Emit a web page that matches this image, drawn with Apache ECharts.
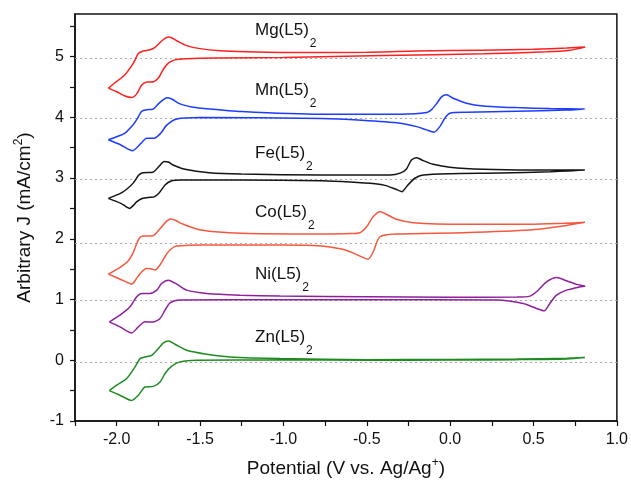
<!DOCTYPE html>
<html>
<head>
<meta charset="utf-8">
<script src="https://cdn.jsdelivr.net/npm/echarts@6/dist/echarts.min.js"></script>
<style>
  html, body { margin: 0; padding: 0; background: #fff; }
  #chart { width: 631px; height: 484px; }
</style>
</head>
<body>
<div id="chart"></div>
<script>
// ---------- data ----------
const names = ['Mg', 'Mn', 'Fe', 'Co', 'Ni', 'Zn'];
const colors = ['#ff2020', '#1e3cff', '#141414', '#f5583e', '#8e209c', '#1f8c22'];
const baselines = [4.97, 3.99, 2.98, 1.92, 0.99, -0.04];

const xTickValues = [-2.25, -2.0, -1.75, -1.5, -1.25, -1.0, -0.75, -0.5, -0.25, 0.0, 0.25, 0.5, 0.75, 1.0];
const xTickLabels = [-2.0, -1.5, -1.0, -0.5, 0.0, 0.5, 1.0];
const yTickValues = [-1, -0.5, 0, 0.5, 1, 1.5, 2, 2.5, 3, 3.5, 4, 4.5, 5, 5.5];
const yTickLabels = [-1, 0, 1, 2, 3, 4, 5];

// each curve: upper branch (forward sweep) and lower branch, both listed left -> right
const mgUpper = [[-2.05,4.48],[-2.00,4.59],[-1.95,4.70],[-1.90,4.89],[-1.87,5.05],[-1.84,5.09],[-1.80,5.11],[-1.77,5.15],[-1.74,5.23],[-1.715,5.29],[-1.69,5.32],[-1.665,5.30],[-1.64,5.26],[-1.58,5.18],[-1.50,5.13],[-1.38,5.095],[-1.22,5.078],[-1.0,5.068],[-0.5,5.07],[-0.2,5.09],[0.2,5.105],[0.5,5.12],[0.7,5.14],[0.81,5.155]];
const mgLower = [[-2.05,4.48],[-2.00,4.42],[-1.95,4.35],[-1.91,4.325],[-1.88,4.385],[-1.85,4.53],[-1.82,4.58],[-1.78,4.585],[-1.75,4.645],[-1.72,4.79],[-1.69,4.89],[-1.65,4.945],[-1.58,4.962],[-1.42,4.975],[-1.0,4.985],[-0.4,5.015],[0.2,5.045],[0.58,5.078],[0.72,5.105],[0.81,5.155]];

const mnUpper = [[-2.05,3.63],[-2.00,3.68],[-1.95,3.74],[-1.90,3.88],[-1.88,3.96],[-1.85,4.10],[-1.82,4.125],[-1.785,4.13],[-1.75,4.22],[-1.72,4.29],[-1.70,4.32],[-1.67,4.30],[-1.62,4.22],[-1.55,4.17],[-1.49,4.15],[-1.25,4.095],[-0.77,4.05],[-0.30,4.05],[-0.14,4.077],[-0.11,4.13],[-0.08,4.23],[-0.05,4.34],[-0.022,4.37],[0.018,4.314],[0.098,4.232],[0.198,4.187],[0.398,4.159],[0.598,4.143],[0.808,4.138]];
const mnLower = [[-2.05,3.63],[-1.975,3.544],[-1.935,3.48],[-1.905,3.45],[-1.875,3.51],[-1.855,3.57],[-1.82,3.655],[-1.775,3.655],[-1.735,3.74],[-1.70,3.87],[-1.64,3.97],[-1.50,3.995],[-0.77,3.98],[-0.53,3.95],[-0.30,3.902],[-0.20,3.846],[-0.142,3.792],[-0.096,3.754],[-0.062,3.846],[-0.032,3.985],[-0.002,4.067],[0.098,4.083],[0.398,4.10],[0.698,4.12],[0.808,4.138]];

const feUpper = [[-2.05,2.665],[-1.975,2.75],[-1.93,2.84],[-1.90,2.92],[-1.867,3.05],[-1.843,3.088],[-1.783,3.095],[-1.747,3.19],[-1.715,3.27],[-1.69,3.265],[-1.662,3.215],[-1.59,3.144],[-1.445,3.088],[-1.253,3.066],[-0.771,3.05],[-0.36,3.05],[-0.30,3.08],[-0.262,3.15],[-0.232,3.297],[-0.20,3.335],[-0.162,3.286],[-0.102,3.226],[-0.002,3.177],[0.198,3.144],[0.498,3.133],[0.808,3.133]];
const feLower = [[-2.05,2.665],[-1.975,2.583],[-1.945,2.53],[-1.922,2.50],[-1.90,2.55],[-1.879,2.61],[-1.843,2.666],[-1.80,2.683],[-1.775,2.69],[-1.747,2.748],[-1.71,2.885],[-1.674,2.951],[-1.614,2.968],[-1.253,2.968],[-0.771,2.955],[-0.60,2.935],[-0.45,2.905],[-0.385,2.875],[-0.33,2.82],[-0.289,2.775],[-0.262,2.857],[-0.241,2.92],[-0.212,2.996],[-0.162,3.05],[0.0,3.072],[0.30,3.083],[0.60,3.105],[0.808,3.133]];

const coUpper = [[-2.05,1.418],[-1.975,1.539],[-1.93,1.64],[-1.903,1.76],[-1.867,2.0],[-1.843,2.045],[-1.783,2.05],[-1.747,2.144],[-1.70,2.29],[-1.674,2.325],[-1.645,2.30],[-1.614,2.254],[-1.494,2.144],[-1.253,2.089],[-0.771,2.078],[-0.60,2.085],[-0.541,2.10],[-0.501,2.198],[-0.462,2.363],[-0.42,2.445],[-0.38,2.40],[-0.321,2.32],[-0.222,2.264],[0.078,2.237],[0.478,2.237],[0.678,2.254],[0.808,2.27]];
const coLower = [[-2.05,1.418],[-1.975,1.33],[-1.935,1.28],[-1.91,1.253],[-1.885,1.33],[-1.855,1.44],[-1.82,1.51],[-1.795,1.505],[-1.77,1.485],[-1.734,1.595],[-1.698,1.76],[-1.66,1.86],[-1.638,1.88],[-1.494,1.896],[-1.012,1.896],[-0.771,1.88],[-0.65,1.83],[-0.60,1.786],[-0.541,1.715],[-0.492,1.665],[-0.462,1.78],[-0.421,2.033],[-0.321,2.078],[0.078,2.10],[0.478,2.144],[0.678,2.21],[0.808,2.27]];

const niUpper = [[-2.044,0.632],[-1.98,0.742],[-1.92,0.879],[-1.88,1.044],[-1.85,1.10],[-1.80,1.10],[-1.76,1.154],[-1.73,1.265],[-1.69,1.319],[-1.64,1.253],[-1.58,1.154],[-1.46,1.10],[-1.26,1.072],[-1.02,1.056],[-0.5,1.045],[0.0,1.038],[0.40,1.04],[0.478,1.056],[0.518,1.127],[0.578,1.292],[0.638,1.364],[0.698,1.308],[0.758,1.249],[0.808,1.22]];
const niLower = [[-2.044,0.632],[-1.98,0.55],[-1.91,0.449],[-1.87,0.55],[-1.83,0.632],[-1.78,0.63],[-1.74,0.688],[-1.71,0.825],[-1.68,0.945],[-1.62,0.99],[-1.02,0.995],[-0.5,0.995],[0.278,0.99],[0.438,0.935],[0.518,0.853],[0.564,0.813],[0.598,0.935],[0.638,1.072],[0.698,1.154],[0.778,1.209],[0.808,1.22]];

const znUpper = [[-2.044,-0.50],[-2.0,-0.411],[-1.94,-0.30],[-1.89,-0.11],[-1.86,0.027],[-1.83,0.055],[-1.79,0.082],[-1.75,0.192],[-1.72,0.286],[-1.69,0.319],[-1.65,0.264],[-1.58,0.165],[-1.46,0.10],[-1.32,0.055],[-1.02,0.027],[-0.5,0.01],[0.0,0.012],[0.4,0.02],[0.7,0.033],[0.808,0.044]];
const znLower = [[-2.044,-0.50],[-1.98,-0.576],[-1.91,-0.662],[-1.87,-0.576],[-1.83,-0.439],[-1.78,-0.43],[-1.74,-0.357],[-1.71,-0.219],[-1.67,-0.098],[-1.62,-0.027],[-1.52,0.0],[-1.02,0.005],[-0.5,0.0],[0.0,0.003],[0.4,0.01],[0.7,0.022],[0.808,0.044]];

const uppers = [mgUpper, mnUpper, feUpper, coUpper, niUpper, znUpper];
const lowers = [mgLower, mnLower, feLower, coLower, niLower, znLower];

// ---------- layout / style ----------
const FONT = '"Liberation Sans", Arial, sans-serif';
const labelY = [30, 90, 153, 212, 274, 337];

function loop(up, low) {
  return up.concat(low.slice(0, -1).reverse());
}

const series = names.map((n, i) => ({
  name: n,
  type: 'line',
  data: loop(uppers[i], lowers[i]),
  showSymbol: false,
  smooth: 0.25,
  lineStyle: { color: colors[i], width: 1.5 },
  itemStyle: { color: colors[i] },
  z: 3,
  markLine: {
    silent: true,
    symbol: 'none',
    label: { show: false },
    lineStyle: { color: '#ababab', type: [2, 3], width: 1 },
    data: [{ yAxis: baselines[i] }],
    z: 1
  }
}));

const graphics = names.map((n, i) => ({
  type: 'text',
  left: 255,
  top: labelY[i] - 8,
  style: {
    text: '{m|' + n + '(L5)}{s|2}',
    font: '17px ' + FONT,
    fill: '#111',
    rich: {
      m: { fontSize: 17, fontFamily: FONT, fill: '#111', lineHeight: 30 },
      s: { fontSize: 12, fontFamily: FONT, fill: '#111', padding: [26, 0, 0, 1] }
    }
  }
}));

const chart = echarts.init(document.getElementById('chart'), null, { renderer: 'canvas' });
chart.setOption({
  animation: false,
  backgroundColor: '#fff',
  grid: { left: 75, right: 14, top: 14, bottom: 63, show: true, borderColor: '#111', borderWidth: 1.5, backgroundColor: 'transparent' },
  xAxis: {
    type: 'value', min: -2.25, max: 1.0, interval: 0.25,
    axisLine: { onZero: false, lineStyle: { color: '#111', width: 1.5 } },
    axisTick: { length: 5, lineStyle: { color: '#111', width: 1.2 }, customValues: xTickValues },
    axisLabel: { customValues: xTickLabels, formatter: v => v.toFixed(1), fontSize: 16, fontFamily: FONT, color: '#111', margin: 11 },
    splitLine: { show: false },
    name: '{m|Potential (V vs. Ag/Ag}{s|+}{m|)}',
    nameLocation: 'middle', nameGap: 36,
    nameTextStyle: {
      fontSize: 19, fontFamily: FONT, color: '#111',
      rich: {
        m: { fontSize: 19, fontFamily: FONT, color: '#111' },
        s: { fontSize: 12, fontFamily: FONT, color: '#111', padding: [0, 0, 12, 0] }
      }
    }
  },
  yAxis: {
    type: 'value', min: -1, max: 5.7, interval: 0.5,
    axisLine: { onZero: false, lineStyle: { color: '#111', width: 1.5 } },
    axisTick: { length: 5, lineStyle: { color: '#111', width: 1.2 }, customValues: yTickValues },
    axisLabel: { customValues: yTickLabels, formatter: v => String(v), fontSize: 16, fontFamily: FONT, color: '#111', margin: 11 },
    splitLine: { show: false },
    name: '{m|Arbitrary J (mA/cm}{s|2}{m|)}',
    nameLocation: 'middle', nameGap: 38, nameRotate: 90,
    nameTextStyle: {
      fontSize: 19, fontFamily: FONT, color: '#111',
      rich: {
        m: { fontSize: 19, fontFamily: FONT, color: '#111' },
        s: { fontSize: 12, fontFamily: FONT, color: '#111', padding: [0, 0, 12, 0] }
      }
    }
  },
  series: series,
  graphic: graphics
});
</script>
</body>
</html>
